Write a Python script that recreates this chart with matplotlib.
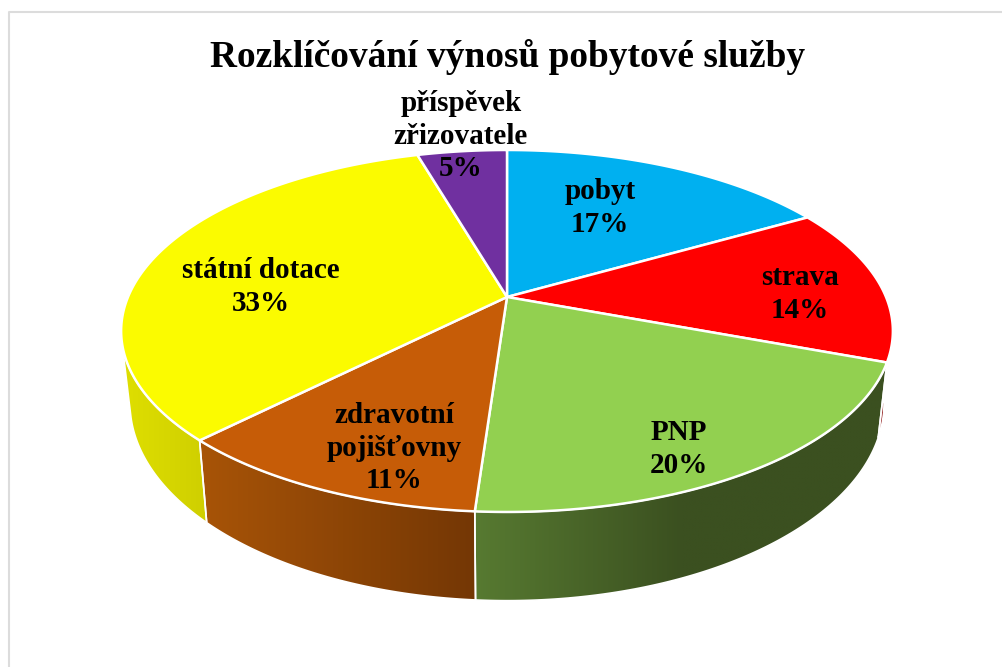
#!/usr/bin/env python3
import numpy as np
import matplotlib
matplotlib.use('Agg')
import matplotlib.pyplot as plt
from matplotlib.colors import LinearSegmentedColormap
from matplotlib.patches import Polygon

title = 'Rozklíčování výnosů pobytové služby'
labels = ['pobyt', 'strava', 'PNP', 'zdravotní\npojišťovny', 'státní dotace', 'příspěvek\nzřizovatele']
percent_labels = [17, 14, 20, 11, 33, 5]
# slice sizes as measured on the drawn pie (3D view skews them a little from the labels)
shares = [16.7, 14.0, 20.4, 11.3, 33.1, 4.5]
top_colors = ['#00b0f0', '#ff0000', '#92d050', '#c65c07', '#fbfb00', '#7030a0']
side_colors = [['#006a90', '#006a90'],
               ['#8a0000', '#700000'],
               ['#577a31', '#3b5020', '#3b5020'],
               ['#a85407', '#743705'],
               ['#dfdf00', '#cfcf00'],
               ['#43205f', '#43205f']]
label_x = [600, 800, 679, 394, 261, 461]
label_y = [208, 294, 449, 448, 287, 136]

# projection of the flat pie, fitted by eye
CX, CY = 507, 297
A, B, K = 379, 174.6, 0.1878


def top_xy(deg):
    t = np.radians(deg)
    u, v = np.sin(t), np.cos(t)
    w = 1 + K * v
    return CX + A * u / w, CY - B * v / w


def bottom_xy(deg):
    x, y = top_xy(deg)
    return CX + 0.977 * (x - CX), 1.09 * y + 42.6


fig = plt.figure(figsize=(10.02, 6.67), dpi=100)
ax = fig.add_axes([0, 0, 1, 1])
plt.rcParams['font.family'] = 'Liberation Serif'

edges = np.cumsum([0] + shares) * 360.0 / sum(shares)

# sides first, back to front
for i in [1, 4, 2, 3]:
    a0 = max(edges[i], 100)
    a1 = min(edges[i + 1], 255)
    th = np.linspace(a0, a1, 120)
    xt, yt = top_xy(th)
    xb, yb = bottom_xy(th)
    pts = np.column_stack([np.r_[xt, xb[::-1]], np.r_[yt, yb[::-1]]])
    x0, x1 = pts[:, 0].min(), pts[:, 0].max()
    cmap = LinearSegmentedColormap.from_list('side%d' % i, side_colors[i])
    grad = np.linspace(0, 1, 256).reshape(1, -1)
    # the gradient runs from left to right across the visible face
    poly = Polygon(pts, closed=True, facecolor='none', edgecolor='white', lw=1.2, zorder=3)
    ax.add_patch(poly)
    im = ax.imshow(grad, cmap=cmap, extent=[x0, x1, pts[:, 1].max(), pts[:, 1].min()],
                   aspect='auto', zorder=2, interpolation='bilinear')
    im.set_clip_path(poly)

# top faces
for i in range(len(shares)):
    th = np.linspace(edges[i], edges[i + 1], 150)
    x, y = top_xy(th)
    ax.fill(np.r_[CX, x], np.r_[CY, y], facecolor=top_colors[i], edgecolor='white',
            lw=1.8, joinstyle='round', zorder=4)

for lab, s, x, y in zip(labels, percent_labels, label_x, label_y):
    ax.text(x, y, '%s\n%d%%' % (lab, s), ha='center', va='center', fontsize=21,
            fontweight='bold', color='black', family='Liberation Serif',
            linespacing=1.24, zorder=5)

ax.text(508, 57, title, ha='center', va='center', fontsize=26.9, fontweight='bold',
        color='black', family='Liberation Serif')

# chart frame, cut off by the screenshot
ax.plot([9.5, 9.5, 1002], [667, 11.5, 11.5], color='#dcdcdc', lw=1.5, zorder=1)

ax.set_xlim(0, 1002)
ax.set_ylim(667, 0)
ax.axis('off')
fig.savefig('out.png', dpi=100, facecolor='white')
